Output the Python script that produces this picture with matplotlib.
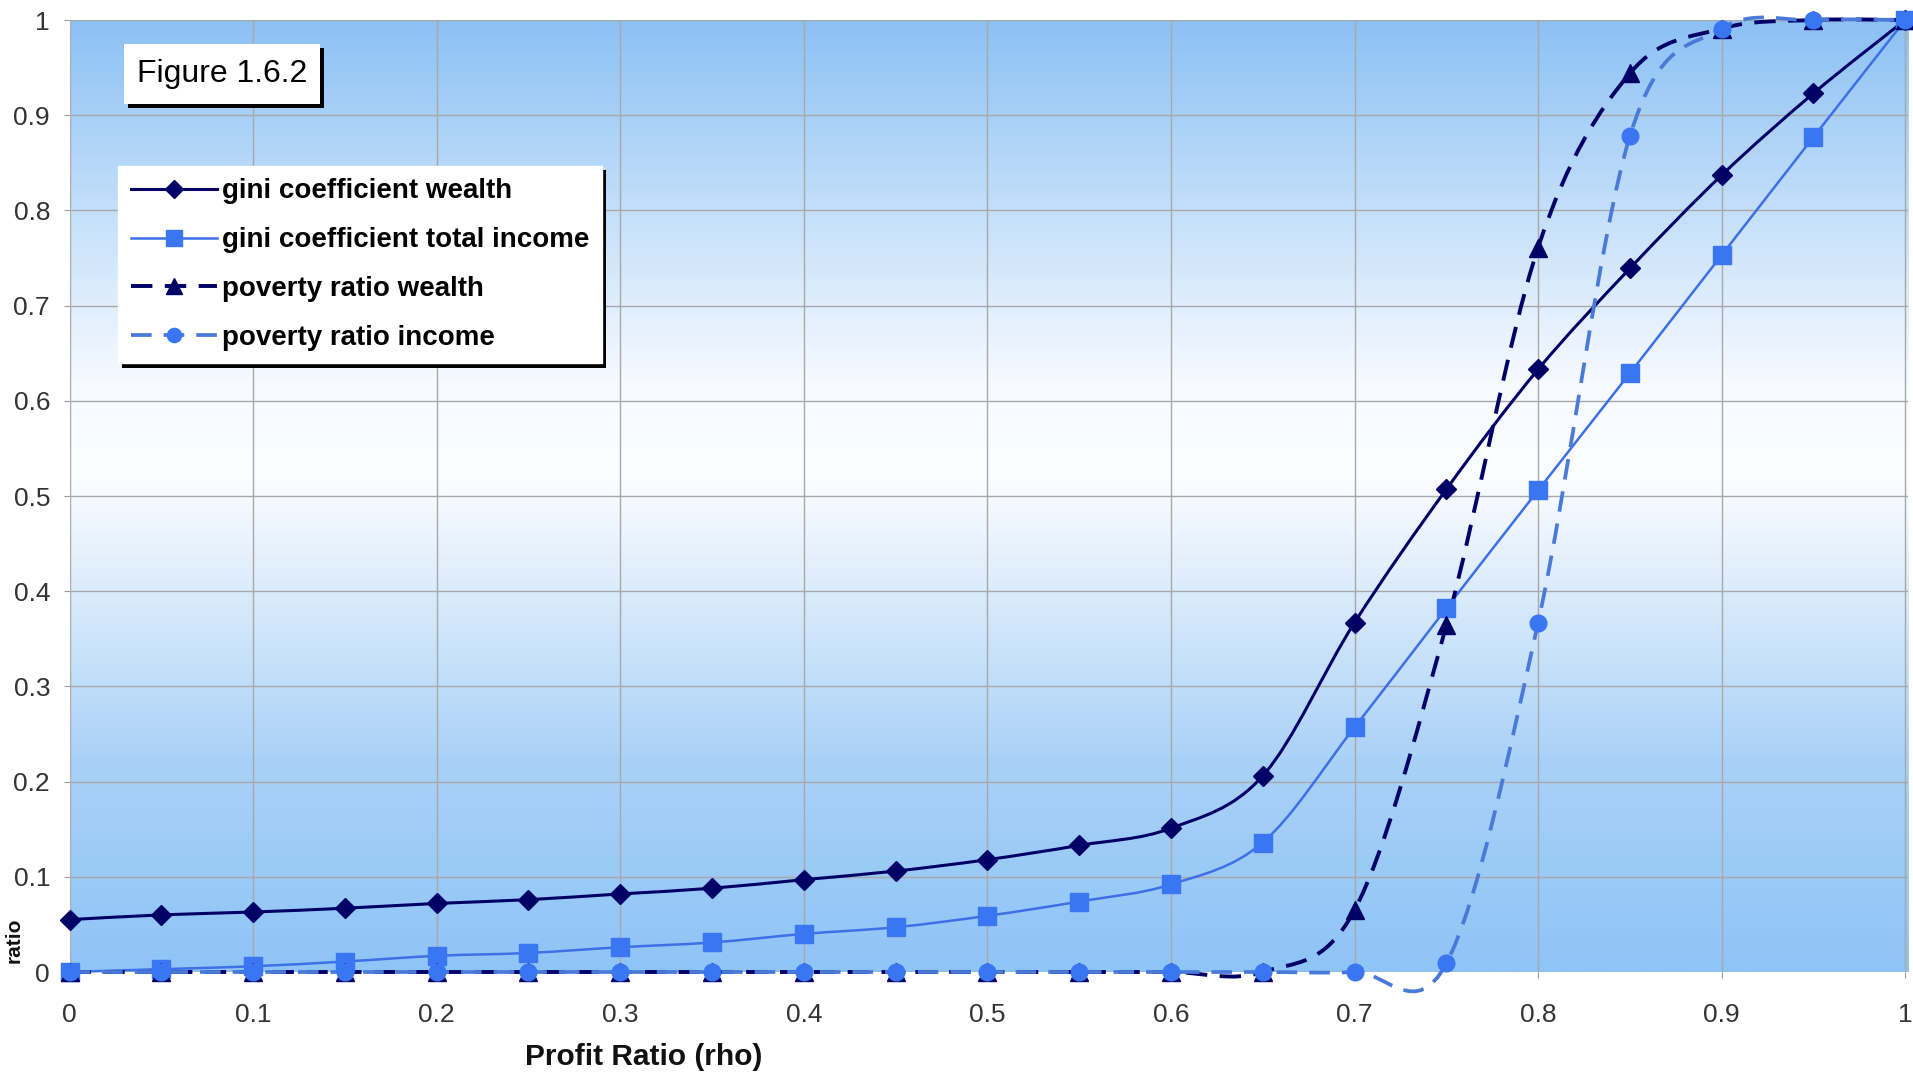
import numpy as np
import matplotlib
matplotlib.use("Agg")
import matplotlib.pyplot as plt
from matplotlib.path import Path
from matplotlib.patches import PathPatch, Rectangle
from matplotlib.lines import Line2D
from matplotlib.colors import LinearSegmentedColormap
import matplotlib.patheffects as pe

plt.rcParams['font.family'] = ['Liberation Sans', 'DejaVu Sans']

# profit ratio (rho) on the x axis
rho = [0.0, 0.05, 0.1, 0.15, 0.2, 0.25, 0.3, 0.35, 0.4, 0.45, 0.5,
       0.55, 0.6, 0.65, 0.7, 0.75, 0.8, 0.85, 0.9, 0.95, 1.0]

gini_wealth = [0.055, 0.060, 0.063, 0.067, 0.072, 0.076, 0.082, 0.088, 0.097, 0.106, 0.118,
               0.133, 0.151, 0.206, 0.367, 0.507, 0.633, 0.739, 0.837, 0.923, 1.0]
gini_income = [0.0, 0.003, 0.006, 0.011, 0.017, 0.020, 0.026, 0.031, 0.040, 0.047, 0.059,
               0.074, 0.092, 0.136, 0.257, 0.382, 0.506, 0.629, 0.753, 0.877, 1.0]
poverty_wealth = [0.0, 0.0, 0.0, 0.0, 0.0, 0.0, 0.0, 0.0, 0.0, 0.0, 0.0,
                  0.0, 0.0, 0.0, 0.065, 0.364, 0.761, 0.944, 0.991, 1.0, 1.0]
poverty_income = [0.0, 0.0, 0.0, 0.0, 0.0, 0.0, 0.0, 0.0, 0.0, 0.0, 0.0,
                  0.0, 0.0, 0.0, 0.0, 0.009, 0.367, 0.878, 0.991, 1.0, 1.0]

labels = ["gini coefficient wealth", "gini coefficient total income",
          "poverty ratio wealth", "poverty ratio income"]

NAVY = "#000066"
BLUE_LINE = "#3D6FE6"
BLUE_MARK = "#3A76F2"
PINC_LINE = "#4A7AD8"


def smooth_path(xs, ys):
    # bezier segments, same idea as a spreadsheet "smoothed line"
    pts = list(zip(xs, ys))
    n = len(pts)
    verts = [pts[0]]
    codes = [Path.MOVETO]
    for i in range(n - 1):
        p0 = pts[max(i - 1, 0)]
        p1 = pts[i]
        p2 = pts[i + 1]
        p3 = pts[min(i + 2, n - 1)]
        c1 = (p1[0] + (p2[0] - p0[0]) / 6, p1[1] + (p2[1] - p0[1]) / 6)
        c2 = (p2[0] - (p3[0] - p1[0]) / 6, p2[1] - (p3[1] - p1[1]) / 6)
        verts += [c1, c2, p2]
        codes += [Path.CURVE4] * 3
    return Path(verts, codes)


fig = plt.figure(figsize=(19.13, 10.80), dpi=100)
ax = fig.add_axes([69.5 / 1913, 1 - 972 / 1080, (1908 - 69.5) / 1913, (972 - 20) / 1080])

# background gradient of the plot area
cmap = LinearSegmentedColormap.from_list(
    "bg", [(0.0, "#8FC4F6"), (0.22, "#A9D1F7"), (0.52, "#FCFDFF"), (0.62, "#F6FAFF"),
           (1.0, "#8CC1F4")])
ax.imshow(np.linspace(0, 1, 512).reshape(-1, 1), cmap=cmap, origin="lower",
          extent=(0, 1, 0, 1), transform=ax.transAxes, aspect="auto", zorder=0)

ax.set_xlim(0, 1.0015)
ax.set_ylim(0, 1)
ax.set_axisbelow(True)
ax.grid(True, color="#A8A8A8", linewidth=1.0)
ax.set_xticks(np.arange(0, 1.01, 0.1))
ax.set_yticks(np.arange(0, 1.01, 0.1))
ax.set_xticklabels(["0", "0.1", "0.2", "0.3", "0.4", "0.5", "0.6", "0.7", "0.8", "0.9", "1"])
ax.set_yticklabels(["0", "0.1", "0.2", "0.3", "0.4", "0.5", "0.6", "0.7", "0.8", "0.9", "1"])
ax.tick_params(axis="both", labelsize=19, colors="#9A9A9A", labelcolor="#333333", length=4)
ax.tick_params(axis="x", pad=18)
ax.tick_params(axis="y", pad=10)
for s in ["top", "right", "bottom"]:
    ax.spines[s].set_visible(False)
ax.spines["left"].set_color("#B0B0B0")

dash = (0, (5.5, 3.2))
series = [
    (gini_wealth, NAVY, NAVY, "D", 10.5, "-", 2.2),
    (gini_income, BLUE_LINE, BLUE_MARK, "s", 13.5, "-", 1.8),
    (poverty_wealth, NAVY, NAVY, "^", 13, dash, 2.8),
    (poverty_income, PINC_LINE, BLUE_MARK, "o", 12, dash, 2.7),
]

handles = []
for (ys, lc, mc, mk, ms, ls, lw), lab in zip(series, labels):
    patch = PathPatch(smooth_path(rho, ys), fill=False, edgecolor=lc, linewidth=lw,
                      linestyle=ls, transform=ax.transData, zorder=3, clip_on=False)
    ax.add_patch(patch)
    ax.plot(rho, ys, linestyle="none", marker=mk, markersize=ms, color=mc,
            markeredgecolor=mc, zorder=4, clip_on=False)
    handles.append(Line2D([], [], color=lc, linewidth=lw, linestyle=ls, marker=mk,
                          markersize=ms * 0.85, markerfacecolor=mc, markeredgecolor=mc))

leg = ax.legend(handles, labels, loc="upper left", bbox_to_anchor=(118 / 1913, 1 - 166 / 1080),
                bbox_transform=fig.transFigure, borderaxespad=0,
                prop={"weight": "bold", "size": 20}, frameon=True, fancybox=False,
                handlelength=3.1, handletextpad=0.2, labelspacing=0.82, borderpad=0.45)
frame = leg.get_frame()
frame.set_facecolor("white")
frame.set_edgecolor("white")
frame.set_alpha(1)
frame.set_path_effects([pe.withSimplePatchShadow(offset=(3, -3), shadow_rgbFace="black", alpha=1)])
leg.set_zorder(10)

# "Figure 1.6.2" box
box = Rectangle((124 / 1913, 1 - 104 / 1080), 196 / 1913, 60 / 1080, transform=fig.transFigure,
                facecolor="white", edgecolor="none", zorder=10,
                path_effects=[pe.withSimplePatchShadow(offset=(3, -3), shadow_rgbFace="black", alpha=1)])
fig.patches.append(box)
fig.text(222 / 1913, 1 - 74 / 1080, "Figure 1.6.2", ha="center", va="center", fontsize=23,
         color="black", zorder=11)

fig.text(644 / 1913, 1 - 1057 / 1080, "Profit Ratio (rho)", ha="center", va="center",
         fontsize=21.5, fontweight="bold", color="#111111")
fig.text(14 / 1913, 1 - 940 / 1080, "ratio", ha="center", va="center", rotation=90,
         fontsize=15, fontweight="bold", color="#111111")

fig.savefig("out.png", dpi=100)
